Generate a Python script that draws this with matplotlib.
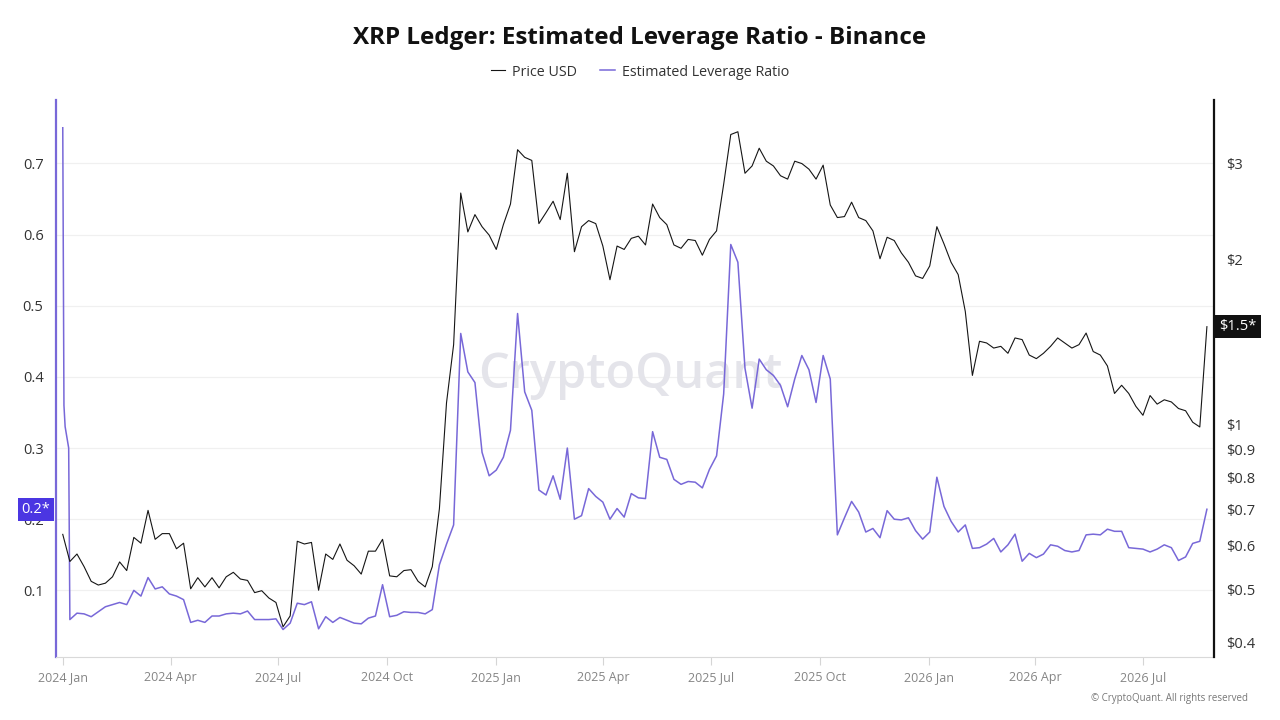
import numpy as np
import matplotlib
matplotlib.use("Agg")
import matplotlib.pyplot as plt
from matplotlib.ticker import NullLocator
from matplotlib.transforms import blended_transform_factory

plt.rcParams['font.family'] = ['Open Sans', 'DejaVu Sans']

# ---- data (one value every 6 days from 2024-01-01) ----
start = np.datetime64('2024-01-01')
step_days = 6

price = [0.630, 0.562, 0.580, 0.550, 0.517, 0.509, 0.513, 0.527, 0.561, 0.541,
         0.622, 0.607, 0.697, 0.617, 0.632, 0.632, 0.593, 0.607, 0.501, 0.525,
         0.505, 0.525, 0.503, 0.527, 0.537, 0.522, 0.519, 0.493, 0.497, 0.482,
         0.473, 0.427, 0.447, 0.612, 0.605, 0.609, 0.498, 0.580, 0.567, 0.605,
         0.565, 0.552, 0.533, 0.587, 0.587, 0.617, 0.529, 0.527, 0.541, 0.543,
         0.517, 0.505, 0.550, 0.702, 1.096, 1.40, 2.65, 2.25, 2.42, 2.30,
         2.22, 2.09, 2.32, 2.53, 3.18, 3.08, 3.04, 2.33, 2.44, 2.56,
         2.37, 2.88, 2.07, 2.30, 2.36, 2.33, 2.12, 1.84, 2.12, 2.09,
         2.19, 2.21, 2.13, 2.53, 2.39, 2.32, 2.13, 2.10, 2.18, 2.17,
         2.04, 2.18, 2.26, 2.75, 3.39, 3.43, 2.88, 2.97, 3.20, 3.03,
         2.97, 2.85, 2.81, 3.03, 3.00, 2.93, 2.81, 2.98, 2.52, 2.39,
         2.40, 2.55, 2.39, 2.36, 2.26, 2.01, 2.20, 2.17, 2.06, 1.98,
         1.87, 1.85, 1.95, 2.30, 2.14, 1.98, 1.88, 1.61, 1.23, 1.42,
         1.41, 1.38, 1.39, 1.35, 1.44, 1.43, 1.34, 1.32, 1.35, 1.39,
         1.44, 1.41, 1.38, 1.40, 1.47, 1.36, 1.34, 1.28, 1.14, 1.18,
         1.14, 1.08, 1.04, 1.13, 1.09, 1.11, 1.10, 1.07, 1.06, 1.01,
         0.99, 1.51]

leverage = [0.750, 0.059, 0.068, 0.067, 0.063, 0.070, 0.077, 0.080, 0.083, 0.080,
            0.100, 0.092, 0.118, 0.102, 0.105, 0.095, 0.092, 0.087, 0.055, 0.058,
            0.055, 0.064, 0.064, 0.067, 0.068, 0.067, 0.071, 0.059, 0.059, 0.059,
            0.060, 0.045, 0.054, 0.082, 0.080, 0.084, 0.046, 0.063, 0.055, 0.062,
            0.058, 0.054, 0.053, 0.061, 0.064, 0.108, 0.063, 0.065, 0.070, 0.069,
            0.069, 0.067, 0.073, 0.136, 0.165, 0.192, 0.461, 0.407, 0.392, 0.294,
            0.261, 0.269, 0.287, 0.325, 0.489, 0.379, 0.353, 0.241, 0.234, 0.261,
            0.228, 0.300, 0.200, 0.205, 0.243, 0.232, 0.224, 0.200, 0.215, 0.203,
            0.236, 0.230, 0.229, 0.323, 0.287, 0.284, 0.256, 0.249, 0.253, 0.252,
            0.244, 0.270, 0.289, 0.376, 0.586, 0.561, 0.412, 0.356, 0.425, 0.410,
            0.402, 0.388, 0.358, 0.397, 0.430, 0.410, 0.364, 0.430, 0.397, 0.178,
            0.202, 0.225, 0.210, 0.182, 0.187, 0.174, 0.212, 0.200, 0.199, 0.202,
            0.184, 0.172, 0.182, 0.259, 0.218, 0.197, 0.182, 0.192, 0.159, 0.160,
            0.165, 0.173, 0.154, 0.164, 0.179, 0.141, 0.152, 0.146, 0.151, 0.164,
            0.162, 0.156, 0.154, 0.156, 0.178, 0.179, 0.178, 0.186, 0.183, 0.183,
            0.160, 0.159, 0.158, 0.154, 0.158, 0.164, 0.160, 0.142, 0.147, 0.166,
            0.169, 0.214]

# first few days of the leverage series (plateau right after the opening spike)
lev_head_days = [1, 2, 4, 5]
lev_head = [0.36, 0.33, 0.31, 0.30]

tick_dates = ['2024-01-01', '2024-04-01', '2024-07-01', '2024-10-01',
              '2025-01-01', '2025-04-01', '2025-07-01', '2025-10-01',
              '2026-01-01', '2026-04-01', '2026-07-01']
tick_labels = ['2024 Jan', '2024 Apr', '2024 Jul', '2024 Oct',
               '2025 Jan', '2025 Apr', '2025 Jul', '2025 Oct',
               '2026 Jan', '2026 Apr', '2026 Jul']
lev_ticks = [0.1, 0.2, 0.3, 0.4, 0.5, 0.6, 0.7]
price_ticks = [0.4, 0.5, 0.6, 0.7, 0.8, 0.9, 1, 2, 3]
price_labels = [r'\$0.4', r'\$0.5', r'\$0.6', r'\$0.7', r'\$0.8', r'\$0.9',
                r'\$1', r'\$2', r'\$3']

days = np.arange(len(price)) * step_days
dates = start + days.astype('timedelta64[D]')
lev_days = np.concatenate([[0], lev_head_days, days[1:]]).astype(int)
lev_dates = start + lev_days.astype('timedelta64[D]')
lev_vals = [leverage[0]] + lev_head + leverage[1:]

PURPLE = '#7868d8'
BADGE = '#4b36e2'

# ---- plot ----
fig = plt.figure(figsize=(12.8, 7.2), dpi=100)
fig.patch.set_facecolor('white')
ax = fig.add_axes([0.04375, 0.0875, 0.9047, 0.7736])
axp = ax.twinx()

ax.plot(lev_dates, lev_vals, color=PURPLE, lw=1.1, zorder=3)
lp, = axp.plot(dates, price, color='#151515', lw=0.8, zorder=3)
ll = plt.Line2D([], [], color=PURPLE, lw=1.1)

ax.set_xlim(np.datetime64('2023-12-26T07'), np.datetime64('2026-08-30'))
ax.set_ylim(0.0064, 0.789)
axp.set_yscale('log')
axp.set_ylim(0.376, 3.92)

ax.set_yticks(lev_ticks)
ax.set_yticklabels([f'{v:g}' for v in lev_ticks])
ax.set_xticks([np.datetime64(d) for d in tick_dates])
ax.set_xticklabels(tick_labels)
axp.set_yticks(price_ticks)
axp.set_yticklabels(price_labels)
axp.yaxis.set_minor_locator(NullLocator())

ax.grid(axis='y', color='#f0f0f0', lw=0.9)
ax.set_axisbelow(True)

ax.tick_params(axis='y', length=0, pad=9, labelsize=10.5, labelcolor='#333333')
ax.tick_params(axis='x', length=6, color='#d5d5d5', pad=4, labelsize=9,
               labelcolor='#858585')
axp.tick_params(axis='y', length=0, pad=9, labelsize=10.5, labelcolor='#333333')

for s in ['top', 'right']:
    ax.spines[s].set_visible(False)
ax.spines['left'].set_color(PURPLE)
ax.spines['left'].set_linewidth(1.6)
ax.spines['bottom'].set_color('#d9d9d9')
for s in ['top', 'left', 'bottom']:
    axp.spines[s].set_visible(False)
axp.spines['right'].set_color('#111111')
axp.spines['right'].set_linewidth(1.6)

# watermark
ax.text(0.4957, 0.5045, 'CryptoQuant', transform=ax.transAxes, ha='center',
        va='center', fontsize=35, fontweight='semibold', color='#e4e4ea', zorder=1)

# last value badges
ax.text(-0.0173, leverage[-1], '0.2*',
        transform=blended_transform_factory(ax.transAxes, ax.transData),
        ha='center', va='center', color='white', fontsize=10.5, zorder=10,
        clip_on=False, bbox=dict(boxstyle='square,pad=0.28', fc=BADGE, ec='none'))
axp.text(1.0207, price[-1], r'\$1.5*',
         transform=blended_transform_factory(axp.transAxes, axp.transData),
         ha='center', va='center', color='white', fontsize=10.5, zorder=10,
         clip_on=False, bbox=dict(boxstyle='square,pad=0.28', fc='#111111', ec='none'))

# title, legend, footer
fig.text(0.5, 1 - 38 / 720, 'XRP Ledger: Estimated Leverage Ratio - Binance',
         ha='center', va='center', fontsize=17.5, fontweight='bold', color='#111111')
fig.legend(handles=[lp, ll], labels=['Price USD', 'Estimated Leverage Ratio'],
           loc='center', bbox_to_anchor=(0.5, 1 - 72 / 720), ncol=2, frameon=False,
           fontsize=10.3, handlelength=1.0, handletextpad=0.5, columnspacing=1.6,
           labelcolor='#333333')
fig.text(1248 / 1280, 1 - 698 / 720, '\u00a9 CryptoQuant. All rights reserved',
         ha='right', va='center', fontsize=7, color='#777777')

fig.savefig('out.png', dpi=100)
